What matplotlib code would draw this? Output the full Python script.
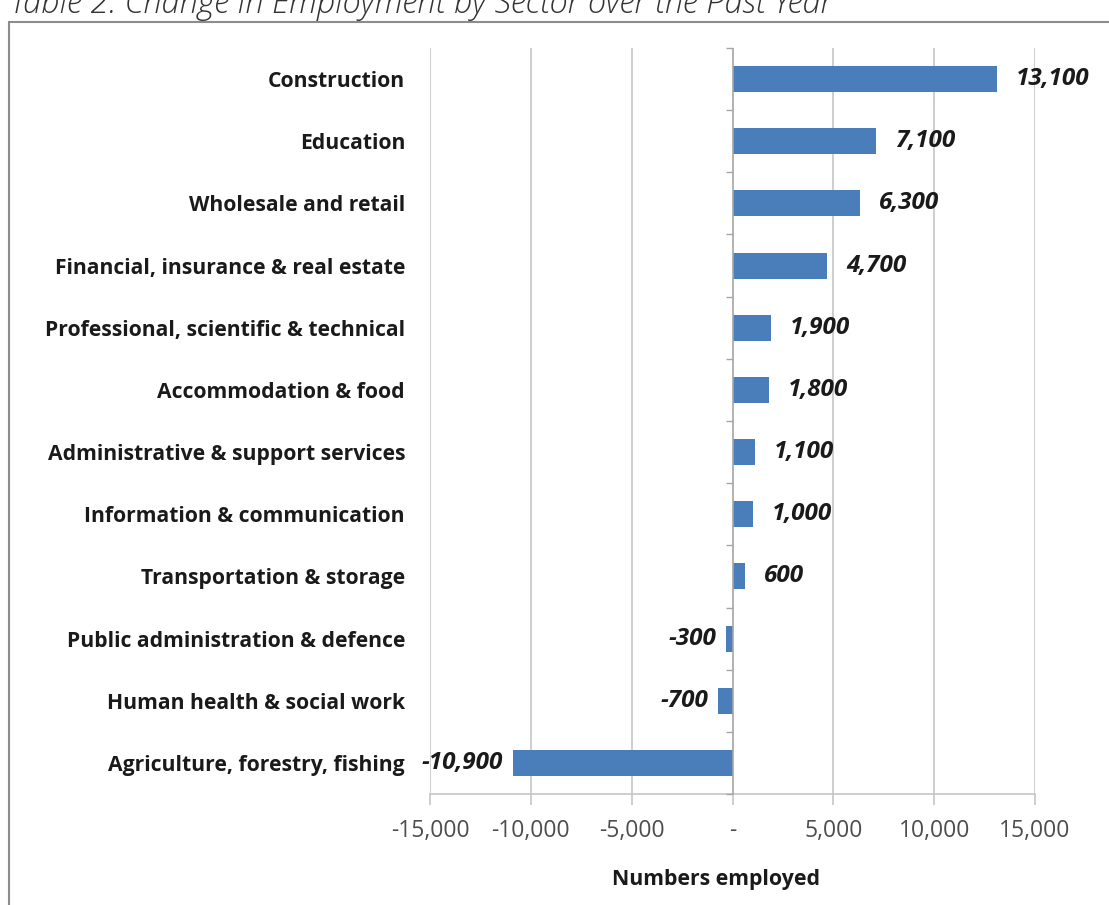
import numpy as np
import matplotlib.pyplot as plt
from matplotlib.patches import Rectangle

# 数据
sectors = ['Construction', 'Education', 'Wholesale and retail',
           'Financial, insurance & real estate',
           'Professional, scientific & technical', 'Accommodation & food',
           'Administrative & support services', 'Information & communication',
           'Transportation & storage', 'Public administration & defence',
           'Human health & social work', 'Agriculture, forestry, fishing']
change = [13100, 7100, 6300, 4700, 1900, 1800, 1100, 1000, 600, -300, -700, -10900]
xticks = [-15000, -10000, -5000, 0, 5000, 10000, 15000]
xticklabels = ['-15,000', '-10,000', '-5,000', '-', '5,000', '10,000', '15,000']

bar_color = '#4a7ebb'
grid_color = '#c6c6c6'

plt.rcParams['font.family'] = ['Open Sans', 'DejaVu Sans']

fig = plt.figure(figsize=(11.09, 9.05), dpi=100)
ax = fig.add_axes([430 / 1109, 111 / 905, 605 / 1109, 746 / 905])

y = np.arange(len(sectors))
ax.barh(y, change, height=0.42, color=bar_color, zorder=3)
ax.set_ylim(len(sectors) - 0.5, -0.5)
ax.set_xlim(-15000, 15000)

# 数值标签
for yi, v in zip(y, change):
    if v >= 0:
        ax.annotate(f'{v:,}', (v, yi), xytext=(14, 0), textcoords='offset points',
                    ha='left', va='center', fontsize=17.5, fontweight='bold',
                    fontstyle='italic', color='#1a1a1a')
    else:
        ax.annotate(f'{v:,}', (v, yi), xytext=(-7, 0), textcoords='offset points',
                    ha='right', va='center', fontsize=17.5, fontweight='bold',
                    fontstyle='italic', color='#1a1a1a')

# 坐标轴
ax.set_yticks(y)
ax.set_yticklabels(sectors, fontsize=15.2, fontweight='bold', color='#1a1a1a')
ax.tick_params(axis='y', length=0, pad=18)
ax.set_xticks(xticks)
ax.set_xticklabels(xticklabels, fontsize=16.5, color='#4d4d4d')
ax.tick_params(axis='x', length=8, color=grid_color, pad=10, width=1.2)

for s in ['top', 'right', 'left']:
    ax.spines[s].set_visible(False)
ax.spines['bottom'].set_color(grid_color)
ax.spines['bottom'].set_linewidth(1.2)

for xv in xticks:
    if xv != 0:
        ax.axvline(xv, color=grid_color, lw=1.2, zorder=1)
ax.axvline(0, color='#a6a6a6', lw=1.2, zorder=4)
# 零轴上的小刻度
ax.plot(np.zeros(len(sectors) + 1), np.arange(len(sectors) + 1) - 0.5,
        linestyle='none', marker=0, markersize=5, color='#a6a6a6',
        markeredgewidth=1, zorder=4, clip_on=False)

ax.set_xlabel('Numbers employed', fontsize=15.3, fontweight='bold', color='#1a1a1a')
ax.xaxis.set_label_coords((716 - 430) / 605, -0.10)

# 外框
fig.patches.append(Rectangle((9 / 1109, -0.05), 1.2, (905 - 22) / 905 + 0.05,
                             transform=fig.transFigure, fill=False,
                             edgecolor='#8c8c8c', lw=1.5))

# 被截断的标题
fig.text(10 / 1109, 1 - 13 / 905, 'Table 2: Change in Employment by Sector over the Past Year',
         fontsize=23.5, fontstyle='italic', fontweight='light', color='#333333',
         ha='left', va='baseline')

fig.savefig('out.png', dpi=100)
